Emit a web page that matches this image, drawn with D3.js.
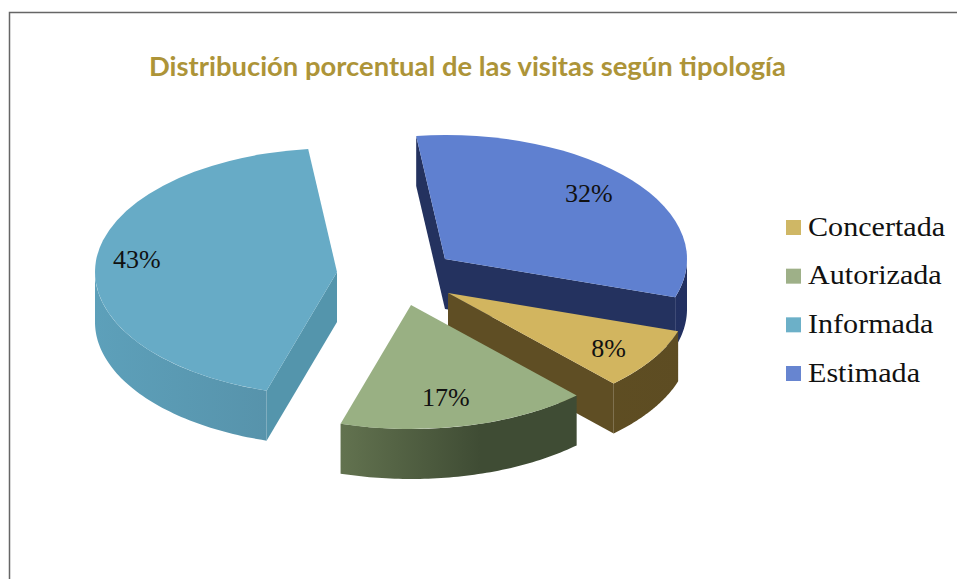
<!DOCTYPE html>
<html><head><meta charset="utf-8">
<script src="https://cdn.jsdelivr.net/npm/d3@7"></script>
<style>html,body{margin:0;padding:0;background:#fff}svg{display:block}</style>
</head><body>
<svg id="c" width="957" height="579"></svg>
<script>
const title = "Distribución porcentual de las visitas según tipología";
const categories = ["Concertada", "Autorizada", "Informada", "Estimada"];
const values = [8, 16.7, 43.4, 31.9];
const valueLabels = ["8%", "17%", "43%", "32%"];

// styling + layout, separate from the data
const topColors   = ["#d2b55f", "#99b083", "#67abc6", "#5f80d0"];
const legendColors= ["#cfb765", "#9eb088", "#6cb0c8", "#6785d0"];
const wallLeft    = ["#635325", "#62724f", "#5da0ba", "#27376c"];
const wallRight   = ["#5d4c22", "#3f4c34", "#5793ab", "#223061"];
const cutColors   = ["#5f4e24", "#414f34", "#5495ac", "#24325f"];
const apex = [[448,293],[411,305],[337,272],[445,259]];
const labelPolar = [[124,.80],[169,.755],[277,.833],[48,.80]];
const rx = 242, ry = 124, depth = 50, tilt = ry / rx;
const drawOrder = [3, 2, 0, 1];
const rad = Math.PI / 180;

const svg = d3.select("#c");
const defs = svg.append("defs");

// frame
svg.append("path").attr("d","M9.5,579V12.5H957").attr("fill","none").attr("stroke","#666").attr("stroke-width",1.5);

// title
svg.append("text").attr("x",149).attr("y",76).attr("font-family","Lato, 'Open Sans', sans-serif")
  .attr("font-weight",700).attr("font-size",26).attr("fill","#ad9438")
  .attr("textLength",637).attr("lengthAdjust","spacingAndGlyphs").text(title);

const slices = d3.pie().sort(null).value(d=>d).startAngle(108*rad).endAngle(468*rad)(values);
const arcTop = d3.arc().innerRadius(0).outerRadius(rx);
const pt = (c,t,r=1,dz=0)=>[c[0]+rx*r*Math.sin(t), c[1]-ry*r*Math.cos(t)+dz];
const line = d3.line();

drawOrder.forEach(i=>{
  const s = slices[i], c = apex[i], g = svg.append("g");
  const id = "w"+i;
  const lg = defs.append("linearGradient").attr("id",id).attr("gradientUnits","userSpaceOnUse")
    .attr("x1",c[0]-rx).attr("x2",c[0]+rx).attr("y1",0).attr("y2",0);
  if (i===1){ lg.attr("x1",342).attr("x2",480); }
  if (i===2){ lg.attr("x1",94).attr("x2",268); }
  lg.append("stop").attr("offset",0).attr("stop-color",wallLeft[i]);
  lg.append("stop").attr("offset",1).attr("stop-color",wallRight[i]);

  // radial cut walls that face the viewer
  const cut = t => {
    const e = pt(c,t);
    g.append("path").attr("d",line([c,e,[e[0],e[1]+depth],[c[0],c[1]+depth]])+"Z").attr("fill",cutColors[i]);
  };
  if (Math.sin(s.startAngle) < 0) cut(s.startAngle);
  if (Math.sin(s.endAngle) > 0) cut(s.endAngle);

  // curved outer wall: the front half of the ellipse only
  [0, 2*Math.PI].forEach(shift=>{
    const a0 = Math.max(s.startAngle, 90*rad+shift), a1 = Math.min(s.endAngle, 270*rad+shift);
    if (a1 <= a0) return;
    const ts = d3.range(0,61).map(k=>a0+(a1-a0)*k/60);
    const upper = ts.map(t=>pt(c,t));
    const lower = ts.map(t=>pt(c,t,1,depth)).reverse();
    g.append("path").attr("d",line(upper.concat(lower))+"Z").attr("fill",`url(#${id})`);
  });

  // top face
  g.append("path")
    .attr("transform",`translate(${c[0]},${c[1]}) scale(1,${tilt})`)
    .attr("d",arcTop({startAngle:s.startAngle,endAngle:s.endAngle}))
    .attr("fill",topColors[i]);
});

// value labels
slices.forEach((s,i)=>{
  const p = pt(apex[i], labelPolar[i][0]*rad, labelPolar[i][1]);
  svg.append("text").attr("x",p[0]).attr("y",p[1]+9).attr("text-anchor","middle")
    .attr("font-family","'Liberation Serif', serif").attr("font-size",26).attr("fill","#111")
    .text(valueLabels[i]);
});

// legend
const ly = d3.scalePoint().domain(categories).range([227.5,373.5]);
const lg = svg.append("g").selectAll("g").data(categories).join("g")
  .attr("transform",d=>`translate(786,${ly(d)})`);
lg.append("rect").attr("x",0).attr("y",-7.5).attr("width",15).attr("height",15)
  .attr("fill",(d,i)=>legendColors[i]);
lg.append("text").attr("x",22).attr("y",8).attr("font-family","'Liberation Serif', serif")
  .attr("font-size",28).attr("fill","#111").text(d=>d)
  .each(function(){ this.setAttribute("textLength", this.getComputedTextLength()*1.075); this.setAttribute("lengthAdjust","spacingAndGlyphs"); });
</script>
</body></html>
